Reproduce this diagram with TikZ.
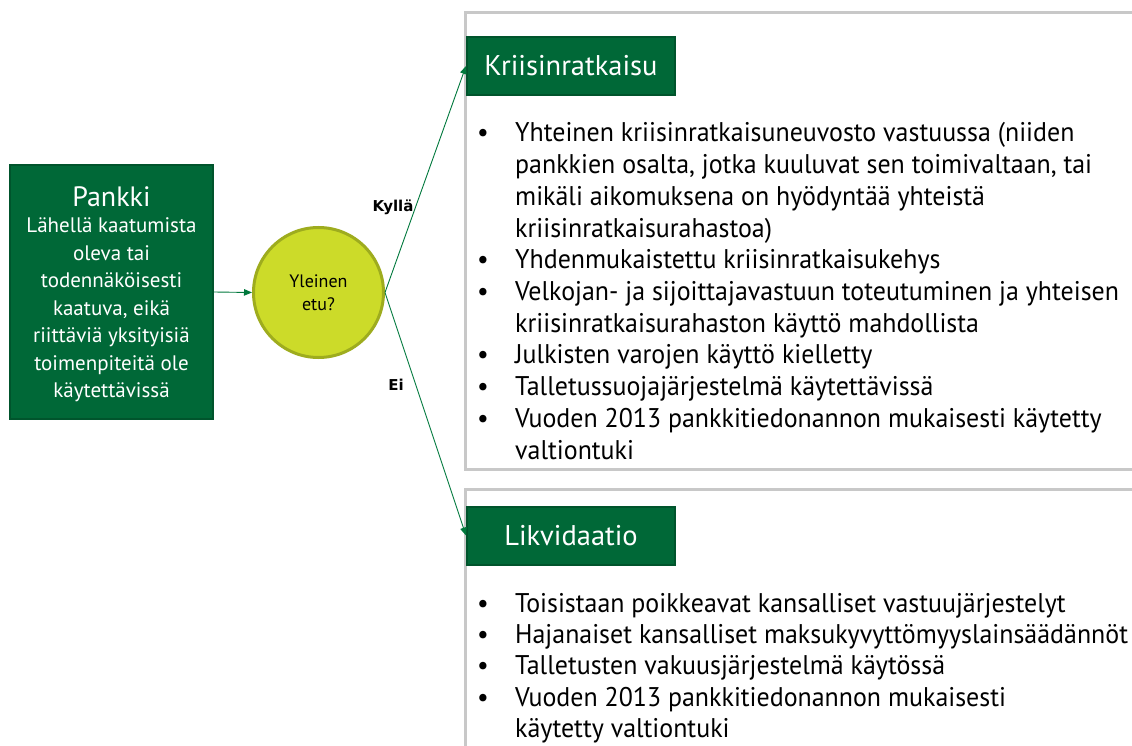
\documentclass[tikz,border=0pt]{standalone}
\usepackage{fontspec}
\setmainfont{PT Sans}
\newfontfamily\listfont[FakeStretch=0.96]{PT Sans}
\newfontfamily\lblfont{DejaVu Sans}
\usetikzlibrary{arrows.meta}
\definecolor{bankgreen}{RGB}{0,104,55}
\definecolor{bankedge}{RGB}{0,84,44}
\definecolor{arrowgreen}{RGB}{0,120,60}
\definecolor{etufill}{RGB}{204,219,41}
\definecolor{etuedge}{RGB}{158,172,30}
\definecolor{panelgray}{RGB}{200,200,200}
\tikzset{
  x=1pt, y=-1pt,
  panel/.style={draw=panelgray, line width=3pt},
  greenbox/.style={draw=bankedge, line width=2pt, fill=bankgreen, text=white, inner sep=0pt},
  flow/.style={draw=arrowgreen, line width=0.9pt, -{Triangle[length=8pt,width=6.5pt]}},
  bodytxt/.style={anchor=base west, inner sep=0pt, font=\listfont\fontsize{27}{30}\selectfont},
  bullettxt/.style={anchor=base, inner sep=0pt, font=\listfont\fontsize{27}{30}\selectfont},
  edgelbl/.style={inner sep=0pt, text=black, font=\lblfont\bfseries\fontsize{15}{18}\selectfont},
}
\begin{document}
\begin{tikzpicture}
\useasboundingbox (0,0) rectangle (1132,746);
% panels
\draw[panel] (1140,13) -- (465,13) -- (465,469) -- (1140,469);
\draw[panel] (1140,489) -- (465,489) -- (465,760);
% bank box
\node[greenbox, minimum width=203pt, minimum height=254pt] (pankki) at (111.5,292) {};
\node[text=white, inner sep=0pt, font=\fontsize{28}{30}\selectfont] (pankkititle) at (111.5,197) {Pankki};
\foreach \t [count=\i] in {Lähellä kaatumista, oleva tai, todennäköisesti, {kaatuva, eikä}, riittäviä yksityisiä, toimenpiteitä ole, käytettävissä}{
  \node[text=white, inner sep=0pt, font=\fontsize{21}{24}\selectfont] (pankkiline\i) at (111.5,{228+27.5*(\i-1)}) {\strut\t};
}
% circle
\node[circle, draw=etuedge, line width=3pt, fill=etufill, minimum size=130pt, inner sep=0pt, align=center, font=\fontsize{18}{23}\selectfont] (etu) at (318.5,292.5) {Yleinen\\etu?};
% headers
\node[greenbox, minimum width=208pt, minimum height=58pt, font=\fontsize{28.5}{32}\selectfont] (kriisi) at (571,66) {Kriisinratkaisu};
\node[greenbox, minimum width=208pt, minimum height=58pt, font=\fontsize{28.5}{32}\selectfont] (likv) at (571,535.5) {Likvidaatio};
% connectors
\draw[flow] (pankki.east) -- (etu.west);
\draw[flow] (etu.east) -- (kriisi.west);
\draw[flow] (etu.east) -- (likv.west);
\node[edgelbl] (kylla) at (393,207) {Kyllä};
\node[edgelbl] (ei) at (396,385) {Ei};
% top list
\foreach \t [count=\i] in {Yhteinen kriisinratkaisuneuvosto vastuussa (niiden, {pankkien osalta, jotka kuuluvat sen toimivaltaan, tai}, mikäli aikomuksena on hyödyntää yhteistä, kriisinratkaisurahastoa), Yhdenmukaistettu kriisinratkaisukehys, Velkojan- ja sijoittajavastuun toteutuminen ja yhteisen, kriisinratkaisurahaston käyttö mahdollista, Julkisten varojen käyttö kielletty, Talletussuojajärjestelmä käytettävissä, Vuoden 2013 pankkitiedonannon mukaisesti käytetty, valtiontuki}{
  \node[bodytxt] (top\i) at (515,{142+31.7*(\i-1)}) {\t};
}
\foreach \i in {1,5,6,8,9,10}{
  \node[bullettxt] (topb\i) at (483,{142+31.7*(\i-1)}) {•};
}
% bottom list
\foreach \t [count=\i] in {Toisistaan poikkeavat kansalliset vastuujärjestelyt, Hajanaiset kansalliset maksukyvyttömyyslainsäädännöt, Talletusten vakuusjärjestelmä käytössä, Vuoden 2013 pankkitiedonannon mukaisesti, käytetty valtiontuki}{
  \node[bodytxt] (bot\i) at (515,{612+31.4*(\i-1)}) {\t};
}
\foreach \i in {1,2,3,4}{
  \node[bullettxt] (botb\i) at (483,{612+31.4*(\i-1)}) {•};
}
\end{tikzpicture}
\end{document}
